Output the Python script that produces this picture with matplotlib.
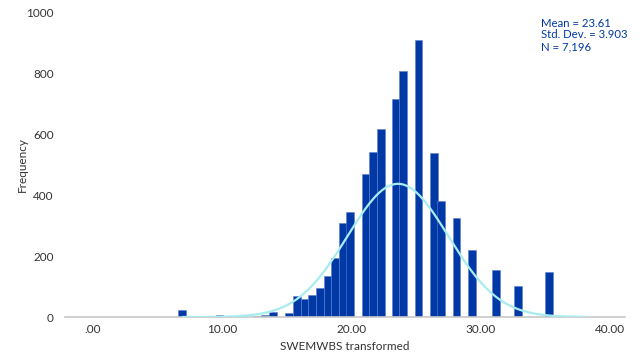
import matplotlib.pyplot as plt
import numpy as np

## SWEMWBS TRANSFORMED HISTOGRAM DATA
bin_centers = [ 6.93, 9.82, 11.55, 12.78, 13.35, 13.94, 15.16, 15.78, 16.38, 16.98,
                17.56, 18.16, 18.75, 19.34, 19.92, 21.10, 21.69, 22.28, 23.42, 24.01,
                25.21, 26.38, 26.96, 28.15, 29.36, 31.17, 32.89, 35.29 ]
counts      = [   24,    5,     4,     4,     6,    15,    14,    68,    60,    71,
                  97,  134,   194,   309,   345,   469,   544,   618,   718,   809,
                 910,  541,   380,   327,   219,   155,   103,   147 ]
bin_width = 0.5957

mean, sd, n = 23.61, 3.903, 7196
x_ticks = [0, 10, 20, 30, 40]
x_ticklabels = ['.00', '10.00', '20.00', '30.00', '40.00']
y_ticks = [0, 200, 400, 600, 800, 1000]

plt.rcParams['font.family'] = ['Lato', 'DejaVu Sans']

fig = plt.figure(figsize=(6.41, 3.54), dpi=100)
ax = fig.add_axes([0.1014, 0.1045, 0.8736, 0.8588])

ax.bar(bin_centers, counts, width=bin_width, color='#0039a6',
       edgecolor='#5a7fd0', linewidth=0.4, zorder=2)

# normal curve scaled to the histogram
xs = np.linspace(7.0, 38.0, 300)
ys = n * bin_width / (sd * np.sqrt(2 * np.pi)) * np.exp(-0.5 * ((xs - mean) / sd) ** 2)
ax.plot(xs, ys, color='#a8ecf0', linewidth=1.6, zorder=3)

ax.set_xlim(-2.14, 41.17)
ax.set_ylim(0, 1000)
ax.set_xticks(x_ticks)
ax.set_xticklabels(x_ticklabels)
ax.set_yticks(y_ticks)

for side in ['top', 'right', 'left']:
    ax.spines[side].set_visible(False)
ax.spines['bottom'].set_color('#c8c8c8')
ax.spines['bottom'].set_linewidth(1.2)
ax.tick_params(axis='both', length=0, labelsize=8.5, labelcolor='#333333')
ax.tick_params(axis='x', pad=5)
ax.tick_params(axis='y', pad=8)

ax.set_xlabel('SWEMWBS transformed', fontsize=8.5, color='#333333', labelpad=4)
ax.set_ylabel('Frequency', fontsize=8.5, color='#333333', labelpad=-1)

ax.text(0.85, 0.985, f'Mean = {mean}\nStd. Dev. = {sd}\nN = {n:,}',
        transform=ax.transAxes, ha='left', va='top', fontsize=8.2,
        color='#0039a6', linespacing=1.1)

plt.savefig('out.png', dpi=100)
